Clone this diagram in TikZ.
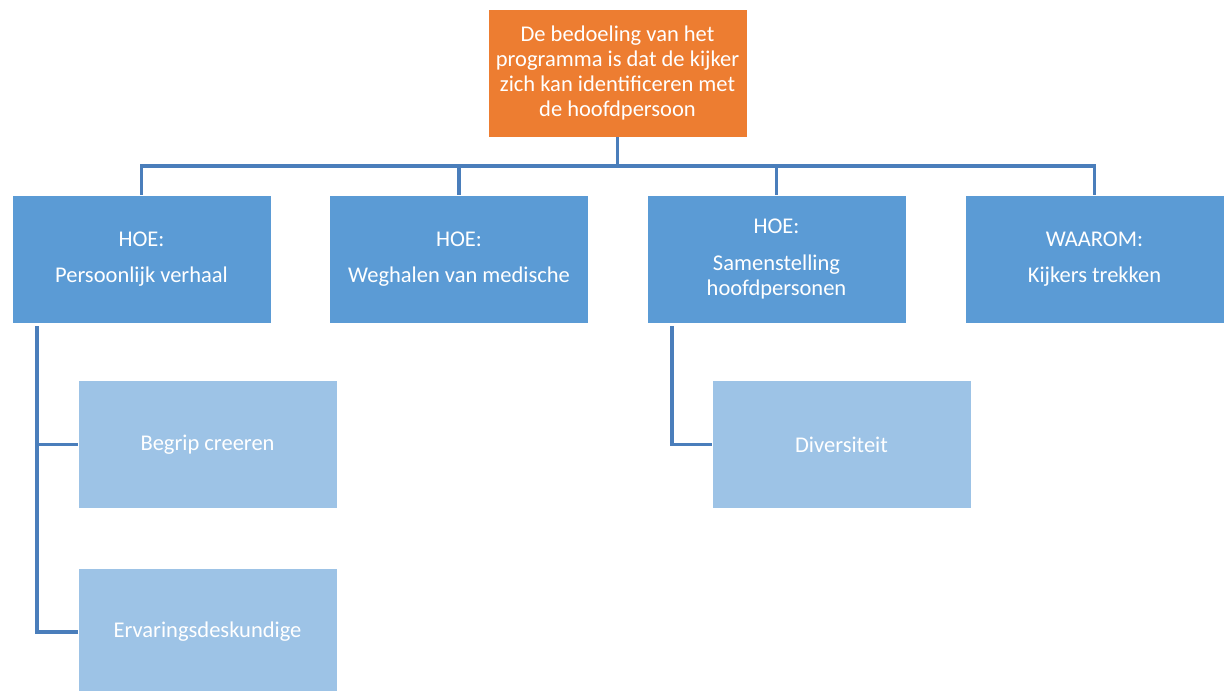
\documentclass[tikz,border=0pt]{standalone}
\usepackage{fontspec}
\setmainfont{Carlito}
\usepackage{xcolor}
\definecolor{boxorange}{HTML}{ED7D31}
\definecolor{boxblue}{HTML}{5B9BD5}
\definecolor{boxlight}{HTML}{9DC3E6}
\definecolor{linkblue}{HTML}{4A7EBB}
\tikzstyle{top box}=[
        fill = boxorange,
        draw = white,
        text = white,
        minimum width = 6.475cm,
        minimum height = 3.2cm,
        align = center,
        rectangle
    ]
\tikzstyle{main box}=[
    fill = boxblue,
    draw = white,
    text = white,
    minimum width = 6.475cm,
    minimum height = 3.2cm,
    align = center,
    rectangle
]
\tikzstyle{sub box}=[
    fill = boxlight,
    draw = white,
    text = white,
    minimum width = 6.475cm,
    minimum height = 3.2cm,
    align = center,
    rectangle
]
\tikzstyle{link}=[
    draw = linkblue,
    line width = 2.2pt
]

\begin{document}
\begin{tikzpicture}[x=0.025cm, y=-0.025cm, font=\fontsize{16}{18}\selectfont]
        \useasboundingbox[fill=white] (0,0) rectangle (1227,690);

        \node[top box] (0) at (617.5,73) {De bedoeling van het\\programma is dat de kijker\\zich kan identificeren met\\de hoofdpersoon};
        \node[main box] (1) at (141.5,259) {HOE:\\[8pt]Persoonlijk verhaal};
        \node[main box] (2) at (459,259) {HOE:\\[8pt]Weghalen van medische};
        \node[main box] (3) at (776.5,259) {HOE:\\[8pt]Samenstelling\\hoofdpersonen};
        \node[main box] (4) at (1094.5,259) {WAAROM:\\[8pt]Kijkers trekken};
        \node[sub box] (5) at (207.5,444.5) {Begrip creeren};
        \node[sub box] (6) at (207.5,632) {Ervaringsdeskundige};
        \node[sub box] (7) at (841.5,444.5) {Diversiteit};

        \coordinate (bus) at (617.5,166);
        \coordinate (l1) at (37,326);
        \coordinate (l3) at (672,326);

        \draw[link] (0) -- (bus);
        \draw[link] (1.north) |- (bus);
        \draw[link] (2.north) |- (bus);
        \draw[link] (3.north) |- (bus);
        \draw[link] (4.north) |- (bus);
        \draw[link] (l1) |- (5.west);
        \draw[link] (l1) |- (6.west);
        \draw[link] (l3) |- (7.west);

    \end{tikzpicture}
\end{document}
